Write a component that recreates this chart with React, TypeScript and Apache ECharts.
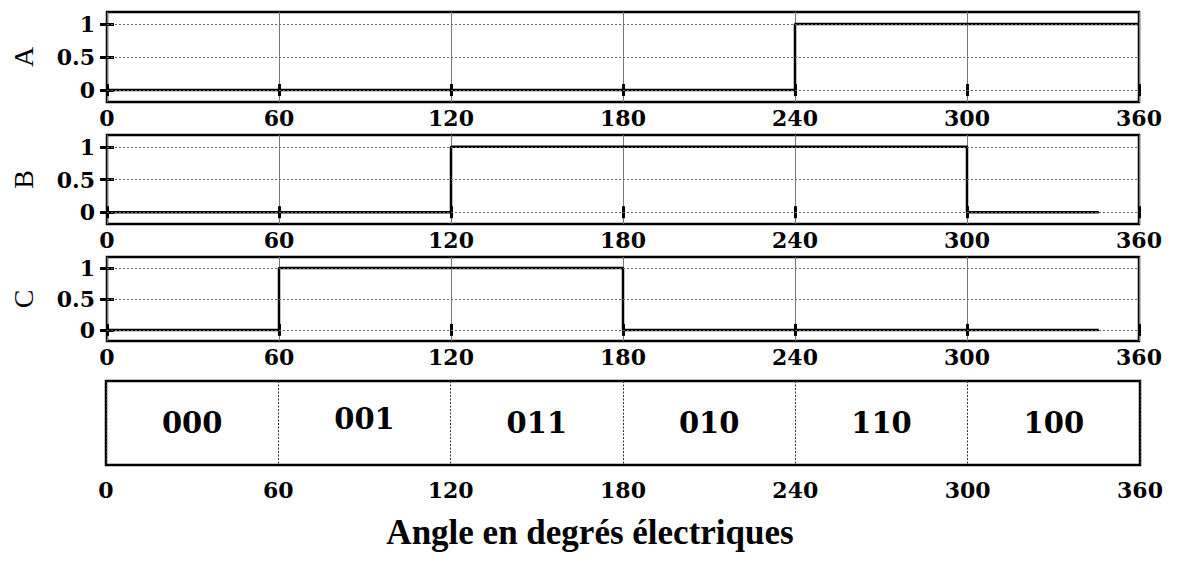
import React, { useEffect, useRef } from "react";
import * as echarts from "echarts";

const angleMin = 0;
const angleMax = 360;
const angleStep = 60;
const levelTicks = [0, 0.5, 1];
const signalNames = ["A", "B", "C"];
const signalA: number[][] = [[0, 0], [240, 0], [240, 1], [360, 1]];
const signalB: number[][] = [[0, 0], [120, 0], [120, 1], [300, 1], [300, 0], [346, 0]];
const signalC: number[][] = [[0, 0], [60, 0], [60, 1], [180, 1], [180, 0], [346, 0]];
const codeCenters = [30, 90, 150, 210, 270, 330];
const codeLabels = ["000", "001", "011", "010", "110", "100"];
const titleText = "Angle en degrés électriques";

const SERIF_B = "DejaVu Serif";

export default function App() {
  const ref = useRef<HTMLDivElement>(null);
  useEffect(() => {
    if (!ref.current) return;
    const chart = echarts.init(ref.current, null, { renderer: "svg" });
    const signals = [signalA, signalB, signalC];
    const gridTops = [12, 135, 257];
    const gridHeights = [90, 89, 84];
    const grids: any[] = gridTops.map((t, i) => ({
      left: 107, width: 1032, top: t, height: gridHeights[i], outerBoundsMode: "none", containLabel: false,
      show: true, borderColor: "#000", borderWidth: 2.5, backgroundColor: "transparent",
    }));
    grids.push({ left: 106, width: 1034, top: 381, height: 84, outerBoundsMode: "none", containLabel: false, show: true, borderColor: "#000", borderWidth: 2.5, backgroundColor: "transparent" });

    const xAxes: any[] = [];
    const yAxes: any[] = [];
    const series: any[] = [];
    const tickLabel = { fontFamily: SERIF_B, fontWeight: "bold", fontSize: 22, color: "#000" };
    for (let i = 0; i < 3; i++) {
      xAxes.push({
        type: "value", gridIndex: i, min: angleMin, max: angleMax, interval: angleStep, position: "bottom",
        axisLine: { show: false },
        axisTick: { show: true, inside: true, length: 6, lineStyle: { color: "#000", width: 3 } },
        axisLabel: { ...tickLabel, margin: 5 },
        splitLine: { show: true, lineStyle: { color: "#777", width: 1 } },
      });
      xAxes.push({
        type: "value", gridIndex: i, min: angleMin, max: angleMax, interval: angleStep, position: "top",
        axisLine: { show: false },
        axisTick: { show: true, inside: true, length: 6, lineStyle: { color: "#000", width: 3 } },
        axisLabel: { show: false }, splitLine: { show: false },
      });
      yAxes.push({
        type: "value", gridIndex: i, min: -0.18, max: 1.18, position: "left",
        name: signalNames[i], nameLocation: "middle", nameRotate: 90, nameGap: 70,
        nameTextStyle: { fontFamily: "Liberation Serif", fontSize: 28, color: "#000" },
        axisLine: { show: false },
        axisTick: { show: true, inside: true, length: 7, customValues: levelTicks, lineStyle: { color: "#000", width: 3 } },
        axisLabel: { ...tickLabel, margin: 12, customValues: levelTicks, formatter: (v: number) => String(v) },
        splitLine: { show: false },
      });
      yAxes.push({
        type: "value", gridIndex: i, min: -0.18, max: 1.18, position: "right",
        axisLine: { show: false },
        axisTick: { show: true, inside: true, length: 7, customValues: levelTicks, lineStyle: { color: "#000", width: 3 } },
        axisLabel: { show: false }, splitLine: { show: false },
      });
      series.push({
        type: "line", xAxisIndex: 2 * i, yAxisIndex: 2 * i, z: 1,
        data: [[angleMin, levelTicks[0]]], showSymbol: false, symbol: "none",
        lineStyle: { opacity: 0 },
        markLine: {
          silent: true, symbol: "none", label: { show: false },
          lineStyle: { type: [2, 2], color: "#666", width: 1 },
          data: levelTicks.map((v) => ({ yAxis: v })),
        },
      });
      series.push({
        type: "line", xAxisIndex: 2 * i, yAxisIndex: 2 * i, z: 3,
        data: signals[i], showSymbol: false, symbol: "none",
        lineStyle: { color: "#000", width: 2.5 },
      });
    }
    xAxes.push({
      type: "value", gridIndex: 3, min: angleMin, max: angleMax, interval: angleStep, position: "bottom",
      axisLine: { show: false }, axisTick: { show: false },
      axisLabel: { ...tickLabel, margin: 14 },
      splitLine: { show: true, lineStyle: { type: [2, 1.5], color: "#333", width: 1 } },
    });
    yAxes.push({ type: "value", gridIndex: 3, min: 0, max: 1, show: false, splitLine: { show: false } });
    series.push({
      type: "scatter", xAxisIndex: 6, yAxisIndex: 6, symbolSize: 0, z: 5,
      data: codeCenters.map((c, k) => ({ value: [c, 0.5, codeLabels[k]], label: k === 1 ? { offset: [0, -4] } : undefined })),
      label: {
        show: true, position: "inside", formatter: (p: any) => p.value[2],
        fontFamily: SERIF_B, fontWeight: "bold", fontSize: 29, color: "#000", opacity: 1,
      },
      itemStyle: { opacity: 1 },
    });

    chart.setOption({
      animation: false,
      backgroundColor: "#fff",
      grid: grids,
      xAxis: xAxes,
      yAxis: yAxes,
      series,
      graphic: [{
        type: "text", x: 590, y: 532,
        style: { text: titleText, fontFamily: "Liberation Serif", fontWeight: "bold", fontSize: 35, fill: "#000", align: "center", verticalAlign: "middle" },
      }],
    });
    return () => chart.dispose();
  }, []);
  return <div ref={ref} style={{ position: "fixed", left: 0, top: 0, width: 1183, height: 561 }} />;
}
